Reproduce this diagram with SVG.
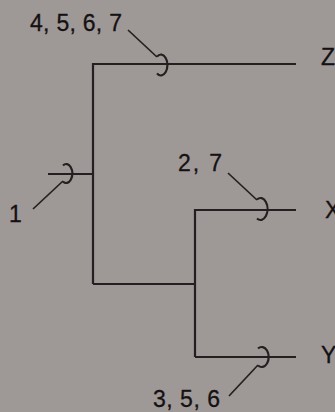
<svg xmlns="http://www.w3.org/2000/svg" width="335" height="412" viewBox="0 0 335 412">
<style>
.ln{fill:none;stroke:#241f20;stroke-width:2.2;stroke-linecap:butt}
.ld{fill:none;stroke:#241f20;stroke-width:1.7}
.lp{fill:none;stroke:#241f20;stroke-width:2.2}
.t{font-family:"Liberation Sans",Arial,sans-serif;font-size:23px;fill:#151112;stroke:#151112;stroke-width:0.3}
</style>
<rect width="335" height="412" fill="#9e9896"/>
<g id="connectors">
<path class="ln" d="M93,284 V64 H296"/>
<path class="ln" d="M48,174 H93"/>
<path class="ln" d="M93,284 H195"/>
<path class="ln" d="M195,357 V210 H296"/>
<path class="ln" d="M195,357 H296"/>
</g>
<g id="loop-z">
<path class="lp" d="M157,56.6 A6.5,10.5 0 1 1 157,73.4"/>
<line class="ld" x1="128" y1="30" x2="157" y2="57"/>
<text class="t" x="30" y="31" textLength="92" lengthAdjust="spacing">4, 5, 6, 7</text>
</g>
<g id="loop-1">
<path class="lp" d="M63,165.5 A6,9.5 0 1 1 63,181.5"/>
<line class="ld" x1="33" y1="209" x2="63" y2="181"/>
<text class="t" x="9" y="222">1</text>
</g>
<g id="loop-x">
<path class="lp" d="M257,199.5 A7,11 0 1 1 257,218.5"/>
<line class="ld" x1="228" y1="173" x2="257" y2="200"/>
<text class="t" x="178" y="171" textLength="44" lengthAdjust="spacing">2, 7</text>
</g>
<g id="loop-y">
<path class="lp" d="M258,348.5 A7,10 0 1 1 258,365.5"/>
<line class="ld" x1="229" y1="396" x2="258" y2="365"/>
<text class="t" x="153" y="407" textLength="67" lengthAdjust="spacing">3, 5, 6</text>
</g>
<g id="node-z"><text class="t" x="321" y="65">Z</text></g>
<g id="node-x"><text class="t" x="325" y="218">X</text></g>
<g id="node-y"><text class="t" x="321" y="363">Y</text></g>
</svg>
